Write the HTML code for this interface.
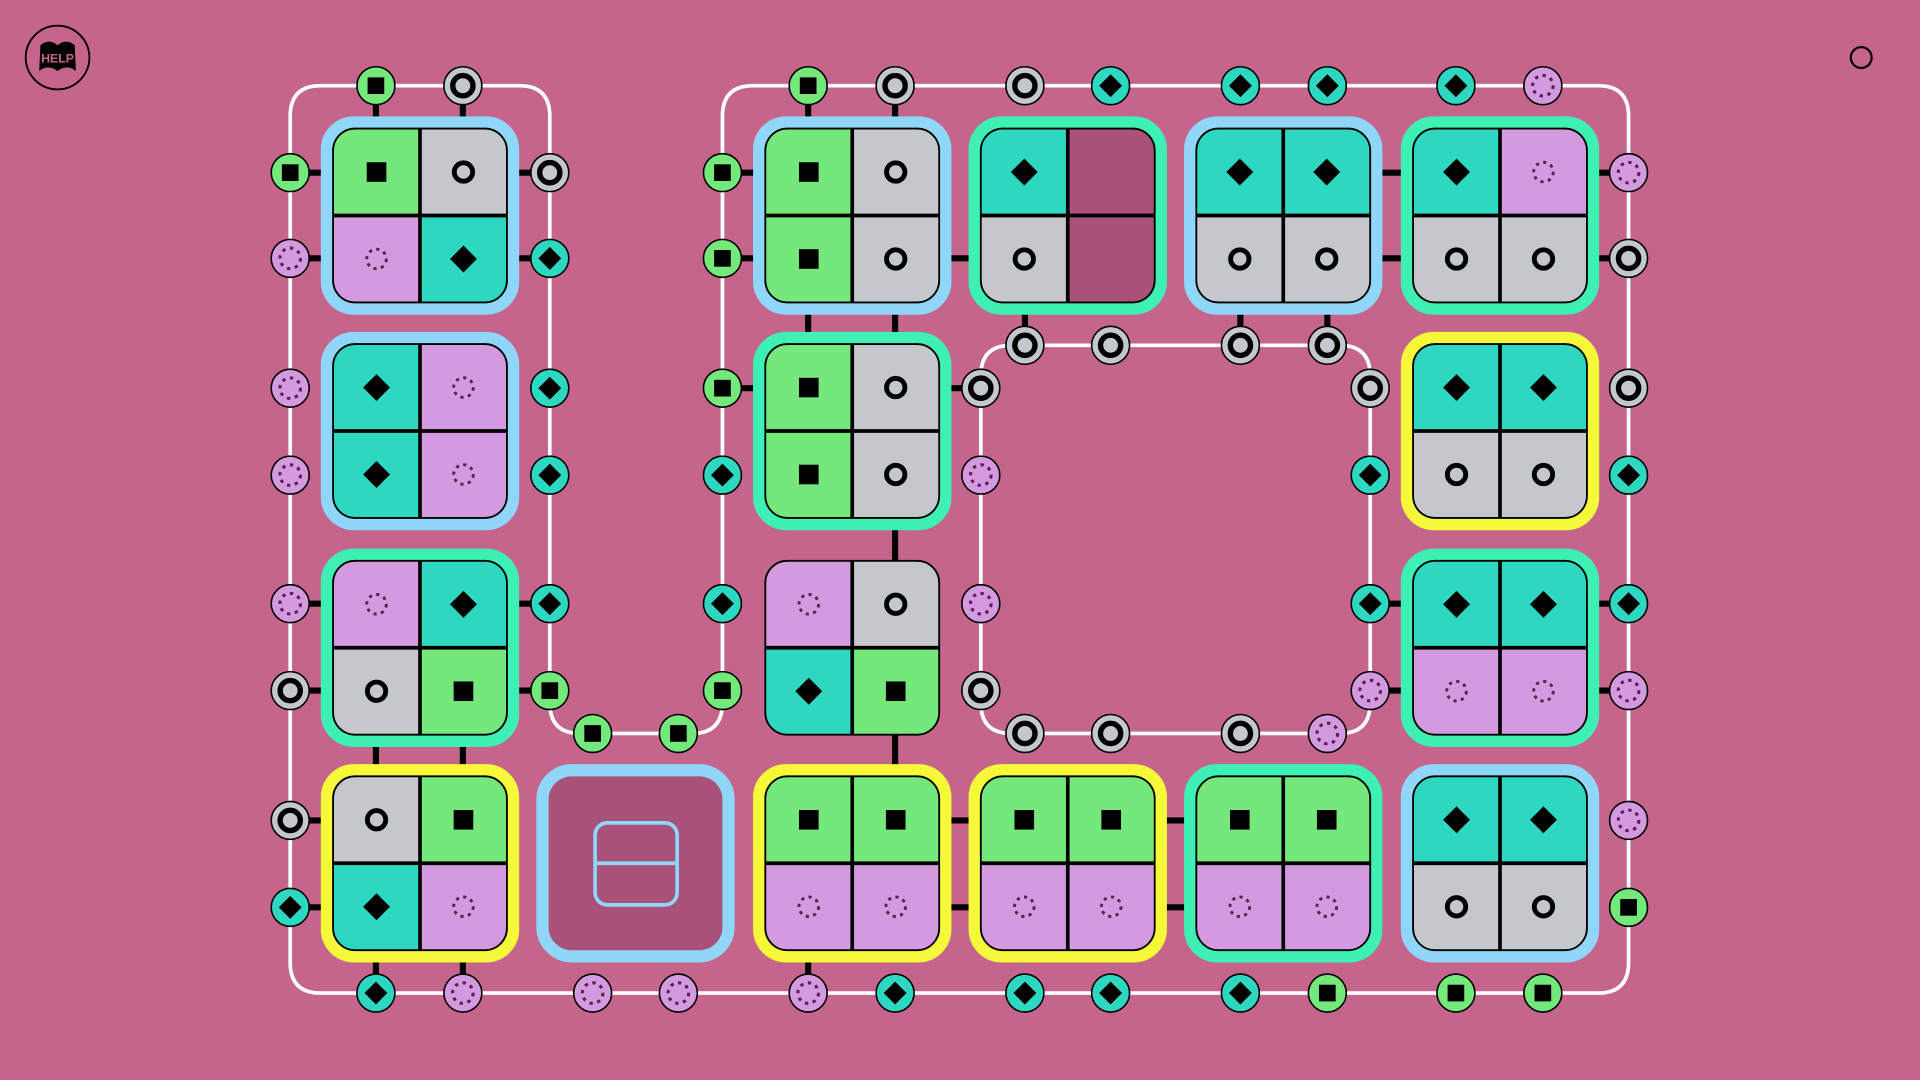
<!DOCTYPE html>
<html><head><meta charset="utf-8"><style>
html,body{margin:0;padding:0;background:#c6658c;width:1920px;height:1080px;overflow:hidden}
svg{display:block}
</style></head><body>
<svg id="s" width="1920" height="1080" viewBox="0 0 1568 882" xmlns="http://www.w3.org/2000/svg">
<rect width="1568" height="882" fill="#c6658c"/>
<g fill="none" stroke="#fff" stroke-width="3">
<path d="M237,95 Q237,70 262,70 L424,70 Q449,70 449,95 L449,574 Q449,599 474,599 L565,599 Q590,599 590,574 L590,95 Q590,70 615,70 L1305,70 Q1330,70 1330,95 L1330,786 Q1330,811 1305,811 L262,811 Q237,811 237,786 Z"/>
<path d="M826,282 L1094,282 Q1119,282 1119,307 L1119,574 Q1119,599 1094,599 L826,599 Q801,599 801,574 L801,307 Q801,282 826,282 Z"/>
</g>
<g id="conn" stroke="#000" stroke-width="5"></g>
<g id="tiles"></g>
<g id="ports"></g>
<circle cx="47" cy="47" r="26" fill="#c6658c" stroke="#000" stroke-width="1.5"/>
<path d="M33,37 Q40,31 47,37 Q54,31 61,37 L62,58 Q55,52 47,58 Q39,52 32,58 Z" fill="#000"/>
<text x="47" y="51" text-anchor="middle" font-family="Liberation Sans, sans-serif" font-weight="bold" font-size="10" fill="#c6658c">HELP</text>
<circle cx="1520" cy="47" r="8.5" fill="none" stroke="#000" stroke-width="1.8"/>
</svg>
<script>
const NS="http://www.w3.org/2000/svg";
const C={s:"#74e87a",o:"#c4c8cc",f:"#d49ae0",d:"#2ed8c0",x:"#a8527a"};
const F={b:"#8fd6f8",g:"#3ef0b4",y:"#f6f83a"};
function sym(t,x,y,k){
 if(t=="s")return `<rect x="${x-8*k}" y="${y-8*k}" width="${16*k}" height="${16*k}" fill="#000"/>`;
 if(t=="o")return `<circle cx="${x}" cy="${y}" r="${7.5*k}" fill="none" stroke="#000" stroke-width="${4*k}"/>`;
 if(t=="d")return `<path d="M${x},${y-11*k} L${x+11*k},${y} L${x},${y+11*k} L${x-11*k},${y} Z" fill="#000"/>`;
 if(t=="f")return `<circle cx="${x}" cy="${y}" r="${8*k}" fill="none" stroke="#5a2050" stroke-width="${2.4*k}" stroke-dasharray="${2.6*k} ${3.6*k}"/>`;
 return "";
}
const cx=[343,519,696,872,1048,1225], cy=[176,352,529,705];
const tiles=[
[0,0,"b","sofd"],[0,2,"b","soso"],[0,3,"g","dxox"],[0,4,"b","ddoo"],[0,5,"g","dfoo"],
[1,0,"b","dfdf"],[1,2,"g","soso"],[1,5,"y","ddoo"],
[2,0,"g","fdos"],[2,2,"","fods"],[2,5,"g","ddff"],
[3,0,"y","osdf"],[3,2,"y","ssff"],[3,3,"y","ssff"],[3,4,"g","ssff"],[3,5,"b","ddoo"]];
let h="";
for(const [r,c,fr,cells] of tiles){
 const X=cx[c],Y=cy[r];
 if(fr)h+=`<rect x="${X-76}" y="${Y-76}" width="152" height="152" rx="22" fill="none" stroke="${F[fr]}" stroke-width="10"/>`;
 const cid="c"+r+"_"+c;
 h+=`<clipPath id="${cid}"><rect x="${X-71}" y="${Y-71}" width="142" height="142" rx="18"/></clipPath><g clip-path="url(#${cid})">`;
 const pos=[[-71,-71],[0,-71],[-71,0],[0,0]];
 for(let i=0;i<4;i++)h+=`<rect x="${X+pos[i][0]}" y="${Y+pos[i][1]}" width="71" height="71" fill="${C[cells[i]]}"/>`;
 h+=`</g><line x1="${X}" y1="${Y-71}" x2="${X}" y2="${Y+71}" stroke="#000" stroke-width="3"/><line x1="${X-71}" y1="${Y}" x2="${X+71}" y2="${Y}" stroke="#000" stroke-width="3"/>`;
 h+=`<rect x="${X-71}" y="${Y-71}" width="142" height="142" rx="18" fill="none" stroke="#000" stroke-width="1.5"/>`;
 for(let i=0;i<4;i++)h+=sym(cells[i],X+pos[i][0]+35.5,Y+pos[i][1]+35.5,1);
}
// empty tile
h+=`<rect x="${519-76}" y="${705-76}" width="152" height="152" rx="24" fill="#a8527a" stroke="#8fd6f8" stroke-width="10"/>
<rect x="486" y="672" width="67" height="67" rx="10" fill="none" stroke="#8fd6f8" stroke-width="3"/><line x1="486" y1="705" x2="553" y2="705" stroke="#8fd6f8" stroke-width="3"/>`;
document.getElementById("tiles").innerHTML=h;
// connectors
const L=[
[307,70,307,105],[378,70,378,105],[237,141,272,141],[237,211,272,211],[414,141,449,141],[414,211,449,211],
[660,70,660,105],[731,70,731,105],[590,141,625,141],[590,211,625,211],[767,211,801,211],
[660,247,660,281],[731,247,731,281],[837,247,837,282],[1013,247,1013,282],[1084,247,1084,282],
[1119,141,1154,141],[1119,211,1154,211],[1296,141,1330,141],[1296,211,1330,211],
[590,317,625,317],[767,317,801,317],[731,423,731,458],
[237,493,272,493],[237,564,272,564],[414,493,449,493],[414,564,449,564],[307,600,307,634],[378,600,378,634],
[731,600,731,634],[1119,493,1154,493],[1119,564,1154,564],[1296,493,1330,493],[1296,564,1330,564],
[237,670,272,670],[237,741,272,741],[307,776,307,811],[378,776,378,811],[660,776,660,811],
[767,670,801,670],[767,741,801,741],[943,670,978,670],[943,741,978,741]];
document.getElementById("conn").innerHTML=L.map(a=>`<line x1="${a[0]}" y1="${a[1]}" x2="${a[2]}" y2="${a[3]}"/>`).join("");
// ports
const P=[];
function row(y,list){for(const [x,t] of list)P.push([x,y,t]);}
function col(x,list){for(const [y,t] of list)P.push([x,y,t]);}
row(70,[[307,"s"],[378,"o"],[660,"s"],[731,"o"],[837,"o"],[907,"d"],[1013,"d"],[1084,"d"],[1189,"d"],[1260,"f"]]);
col(237,[[141,"s"],[211,"f"],[317,"f"],[388,"f"],[493,"f"],[564,"o"],[670,"o"],[741,"d"]]);
col(449,[[141,"o"],[211,"d"],[317,"d"],[388,"d"],[493,"d"],[564,"s"]]);
row(599,[[484,"s"],[554,"s"]]);
col(590,[[141,"s"],[211,"s"],[317,"s"],[388,"d"],[493,"d"],[564,"s"]]);
col(801,[[317,"o"],[388,"f"],[493,"f"],[564,"o"]]);
row(282,[[837,"o"],[907,"o"],[1013,"o"],[1084,"o"]]);
col(1119,[[317,"o"],[388,"d"],[493,"d"],[564,"f"]]);
row(599,[[837,"o"],[907,"o"],[1013,"o"],[1084,"f"]]);
col(1330,[[141,"f"],[211,"o"],[317,"o"],[388,"d"],[493,"d"],[564,"f"],[670,"f"],[741,"s"]]);
row(811,[[307,"d"],[378,"f"],[484,"f"],[554,"f"],[660,"f"],[731,"d"],[837,"d"],[907,"d"],[1013,"d"],[1084,"s"],[1189,"s"],[1260,"s"]]);
let p="";
for(const [x,y,t] of P){p+=`<circle cx="${x}" cy="${y}" r="15.5" fill="${C[t]}" stroke="#000" stroke-width="1.3"/>`+sym(t,x,y,t=="o"?1.1:(t=="f"?1.05:0.85));}
document.getElementById("ports").innerHTML=p;
</script>
</body></html>
